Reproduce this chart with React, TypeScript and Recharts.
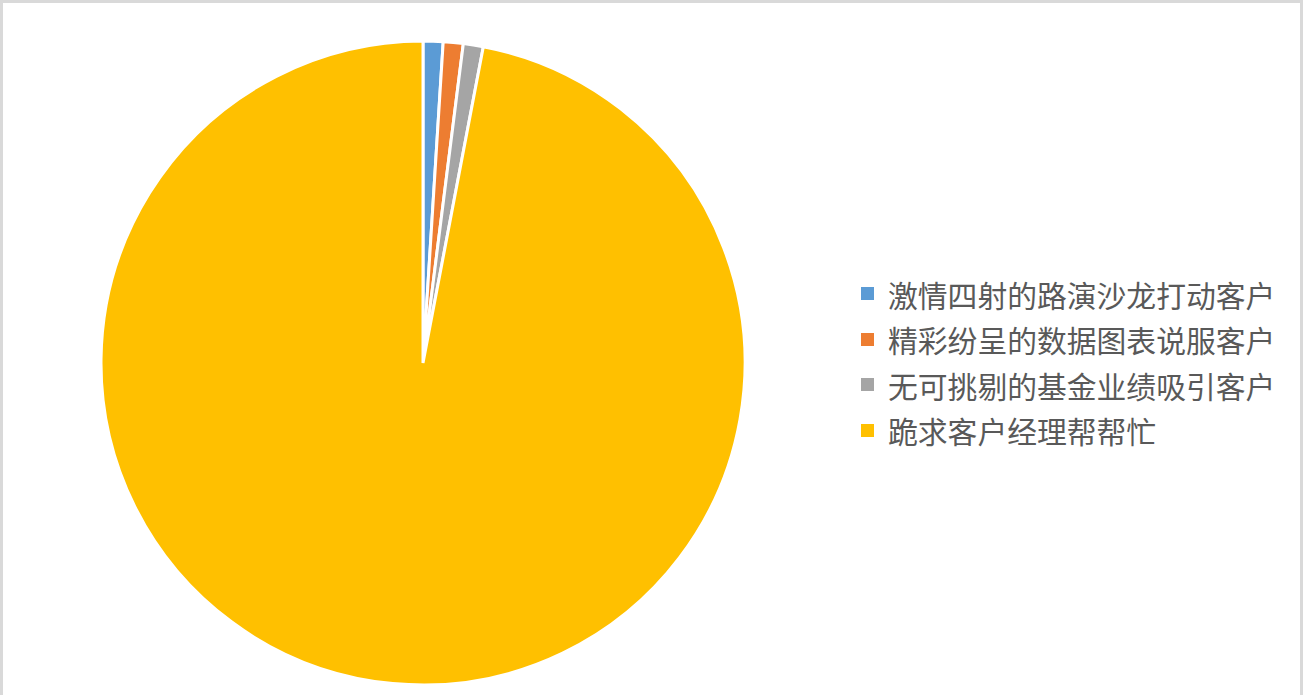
import { PieChart, Pie, Cell, Legend } from "recharts";

const categories = [
  "激情四射的路演沙龙打动客户",
  "精彩纷呈的数据图表说服客户",
  "无可挑剔的基金业绩吸引客户",
  "跪求客户经理帮帮忙",
];
const shares = [1, 1, 1, 97];
const colors = ["#5B9BD5", "#ED7D31", "#A5A5A5", "#FFC000"];

const data = categories.map((name, i) => ({ name, value: shares[i] }));

function LegendBox() {
  return (
    <div style={{ fontFamily: '"Noto Sans CJK SC", sans-serif' }}>
      {categories.map((name, i) => (
        <div
          key={name}
          style={{
            display: "flex",
            alignItems: "center",
            height: 45.5,
            fontSize: 29.8,
            color: "#595959",
            whiteSpace: "nowrap",
          }}
        >
          <span
            style={{
              width: 13,
              height: 13,
              background: colors[i],
              marginRight: 14,
              flexShrink: 0,
            }}
          />
          {name}
        </div>
      ))}
    </div>
  );
}

export default function App() {
  return (
    <div
      style={{
        position: "absolute",
        left: 0,
        top: 0,
        width: 1303,
        height: 695,
        background: "#fff",
        boxSizing: "border-box",
        borderLeft: "3px solid #d9d9d9",
        borderTop: "3px solid #d9d9d9",
        borderRight: "3px solid #d9d9d9",
        overflow: "hidden",
      }}
    >
      <PieChart
        width={1303}
        height={695}
        margin={{ top: 0, right: 0, bottom: 0, left: 0 }}
        style={{ position: "absolute", left: -3, top: -3 }}
      >
        <Pie
          data={data}
          dataKey="value"
          nameKey="name"
          cx={423}
          cy={363}
          outerRadius={322}
          startAngle={90}
          endAngle={-270}
          stroke="#fff"
          strokeWidth={3}
          isAnimationActive={false}
        >
          {data.map((d, i) => (
            <Cell key={d.name} fill={colors[i]} />
          ))}
        </Pie>
        <Legend
          layout="vertical"
          verticalAlign="top"
          align="right"
          wrapperStyle={{ left: 861, top: 271, width: 440 }}
          content={() => <LegendBox />}
        />
      </PieChart>
    </div>
  );
}
